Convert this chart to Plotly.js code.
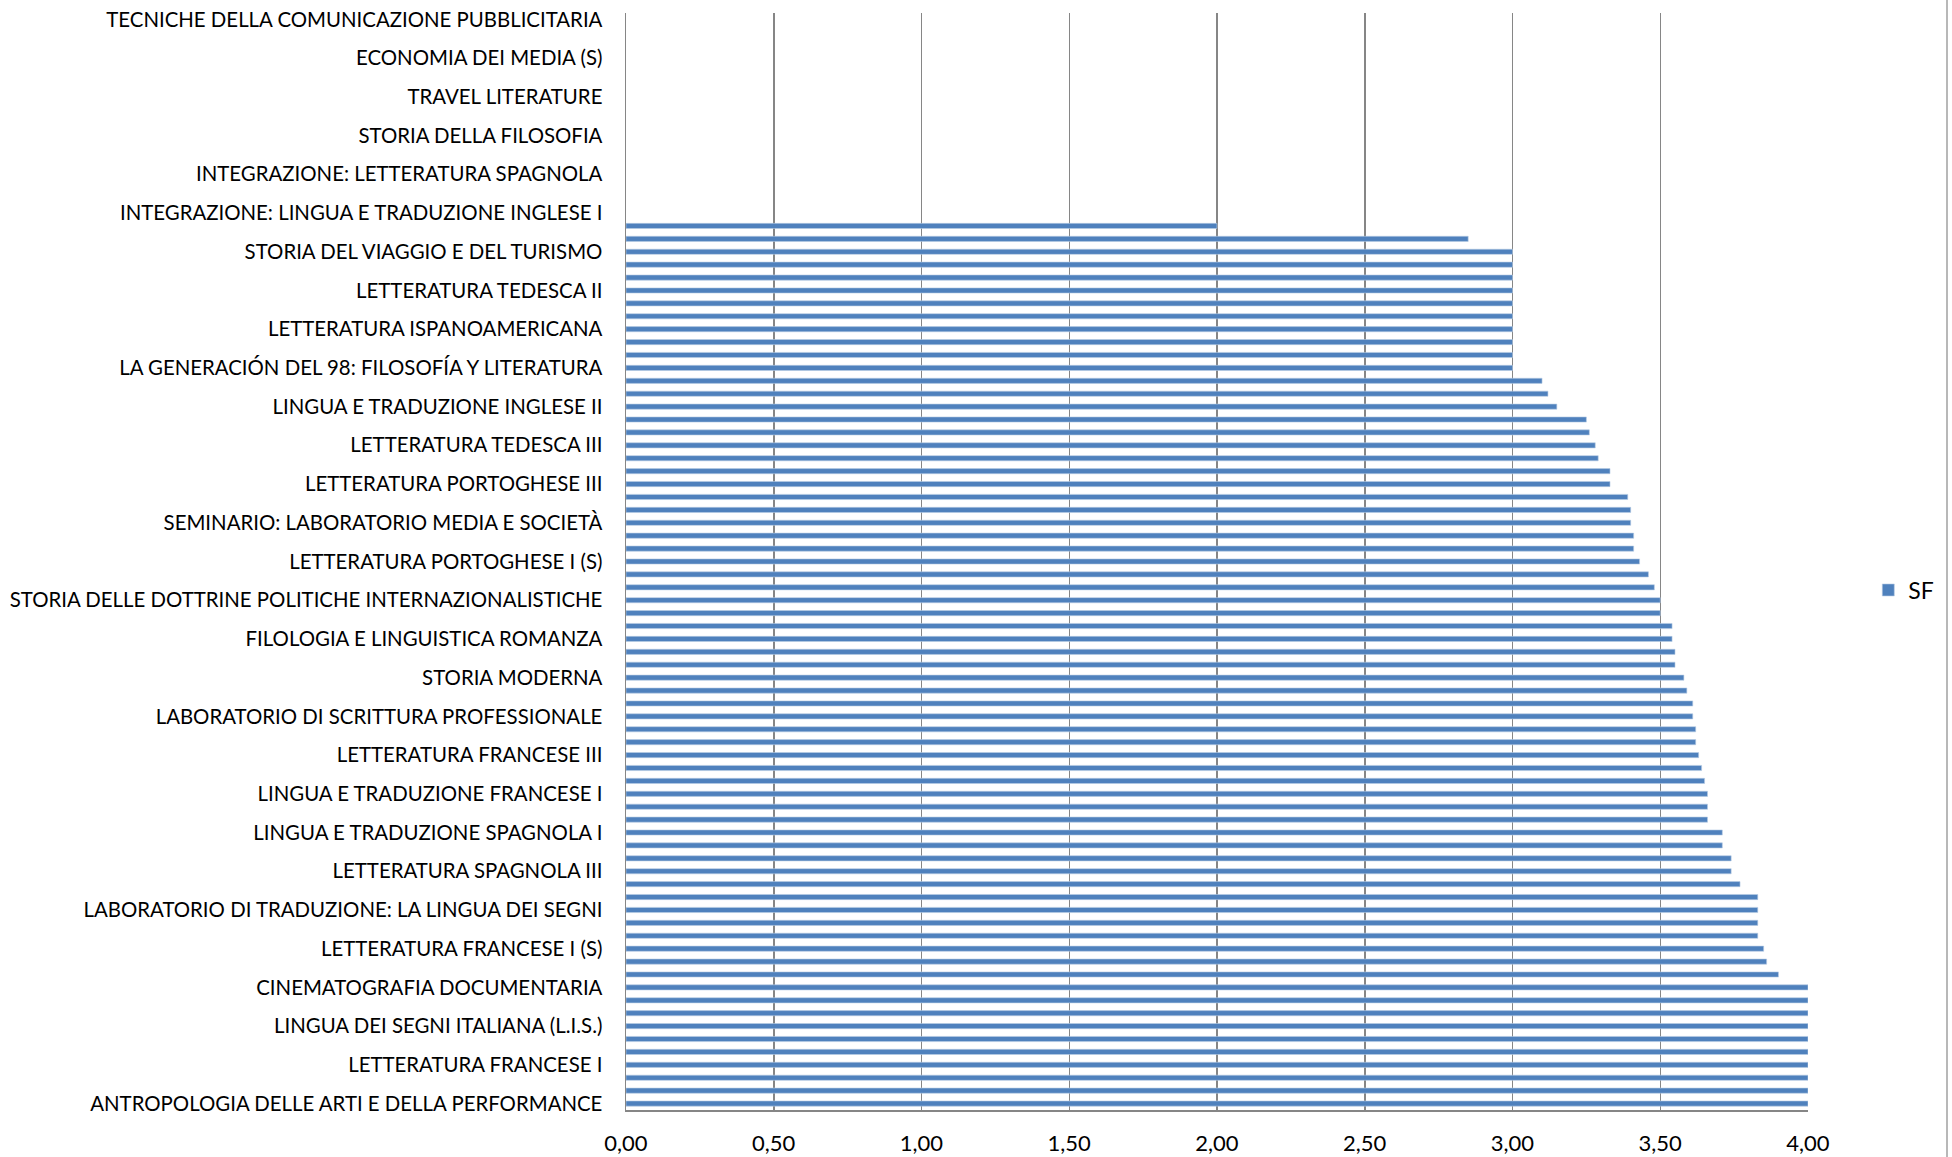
<!DOCTYPE html>
<html>
<head>
<meta charset="utf-8">
<script src="https://cdn.plot.ly/plotly-3.0.1.min.js"></script>
<style>html,body{margin:0;padding:0;background:#fff;}#chart{width:1952px;height:1157px;}</style>
</head>
<body>
<div id="chart"></div>
<script>
// Category labels shown on the axis (every third course, from the bottom up)
const labels = [
  "ANTROPOLOGIA DELLE ARTI E DELLA PERFORMANCE",
  "LETTERATURA FRANCESE I",
  "LINGUA DEI SEGNI ITALIANA (L.I.S.)",
  "CINEMATOGRAFIA DOCUMENTARIA",
  "LETTERATURA FRANCESE I (S)",
  "LABORATORIO DI TRADUZIONE: LA LINGUA DEI SEGNI",
  "LETTERATURA SPAGNOLA III",
  "LINGUA E TRADUZIONE SPAGNOLA I",
  "LINGUA E TRADUZIONE FRANCESE I",
  "LETTERATURA FRANCESE III",
  "LABORATORIO DI SCRITTURA PROFESSIONALE",
  "STORIA MODERNA",
  "FILOLOGIA E LINGUISTICA ROMANZA",
  "STORIA DELLE DOTTRINE POLITICHE INTERNAZIONALISTICHE",
  "LETTERATURA PORTOGHESE I (S)",
  "SEMINARIO: LABORATORIO MEDIA E SOCIETÀ",
  "LETTERATURA PORTOGHESE III",
  "LETTERATURA TEDESCA III",
  "LINGUA E TRADUZIONE INGLESE II",
  "LA GENERACIÓN DEL 98: FILOSOFÍA Y LITERATURA",
  "LETTERATURA ISPANOAMERICANA",
  "LETTERATURA TEDESCA II",
  "STORIA DEL VIAGGIO E DEL TURISMO",
  "INTEGRAZIONE: LINGUA E TRADUZIONE INGLESE I",
  "INTEGRAZIONE: LETTERATURA SPAGNOLA",
  "STORIA DELLA FILOSOFIA",
  "TRAVEL LITERATURE",
  "ECONOMIA DEI MEDIA (S)",
  "TECNICHE DELLA COMUNICAZIONE PUBBLICITARIA"
];
const labelStep = 3;

// SF series values, one per course, from the bottom up (null = no bar)
const sfValues = [
  4.00, 4.00, 4.00, 4.00, 4.00, 4.00, 4.00, 4.00, 4.00, 4.00,
  3.90, 3.86, 3.85, 3.83, 3.83, 3.83, 3.83, 3.77, 3.74, 3.74,
  3.71, 3.71, 3.66, 3.66, 3.66, 3.65, 3.64, 3.63, 3.62, 3.62,
  3.61, 3.61, 3.59, 3.58, 3.55, 3.55, 3.54, 3.54, 3.50, 3.50,
  3.48, 3.46, 3.43, 3.41, 3.41, 3.40, 3.40, 3.39, 3.33, 3.33,
  3.29, 3.28, 3.26, 3.25, 3.15, 3.12, 3.10, 3.00, 3.00, 3.00,
  3.00, 3.00, 3.00, 3.00, 3.00, 3.00, 3.00, 2.85, 2.00, null,
  null, null, null, null, null, null, null, null, null, null,
  null, null, null, null, null
];
const seriesName = "SF";
const xTicks = [0, 0.5, 1, 1.5, 2, 2.5, 3, 3.5, 4];

const positions = sfValues.map((_, i) => i);
const tickPositions = labels.map((_, k) => k * labelStep);

const FONT = "Lato, 'Open Sans', sans-serif";
const GRID = "#868686";

const trace = {
  type: "bar",
  orientation: "h",
  name: seriesName,
  x: sfValues,
  y: positions,
  marker: {color: "#4F81BD", line: {color: "#b8cce4", width: 0.6}},
  hoverinfo: "x+y"
};

const W = 1952, H = 1157;
const L = 626, R = 144, T = 13, B = 47;

const layout = {
  width: W, height: H,
  margin: {l: L, r: R, t: T, b: B, pad: 0},
  paper_bgcolor: "#fff",
  plot_bgcolor: "#fff",
  separators: ",.",
  bargap: 0.6,
  font: {family: FONT, size: 20, color: "#000"},
  xaxis: {
    range: [0, 4],
    tickvals: xTicks,
    tickformat: ".2f",
    showgrid: true,
    gridcolor: GRID,
    gridwidth: 1.5,
    zeroline: false,
    showline: true,
    linecolor: GRID,
    linewidth: 1.5,
    ticks: "",
    ticklabelstandoff: 13,
    tickfont: {family: FONT, size: 22, color: "#000"},
    fixedrange: true
  },
  yaxis: {
    range: [-0.5, sfValues.length - 0.5],
    tickvals: tickPositions,
    ticktext: labels,
    showgrid: false,
    zeroline: false,
    showline: true,
    linecolor: GRID,
    linewidth: 1.5,
    ticks: "",
    ticklabelstandoff: 18,
    tickfont: {family: FONT, size: 20.4, color: "#000"},
    fixedrange: true
  },
  showlegend: true,
  legend: {
    x: 1.051, xanchor: "left",
    y: 0.474, yanchor: "middle",
    font: {family: FONT, size: 23, color: "#000"},
    itemwidth: 30,
    bgcolor: "rgba(0,0,0,0)"
  },
  shapes: [{
    type: "line", xref: "paper", yref: "paper",
    x0: (1947 - L) / (W - L - R), x1: (1947 - L) / (W - L - R),
    y0: -B / (H - T - B), y1: 1 + T / (H - T - B),
    line: {color: "#a0a0a0", width: 1.5}
  }]
};

Plotly.newPlot("chart", [trace], layout, {displayModeBar: false, staticPlot: true});
</script>
</body>
</html>
